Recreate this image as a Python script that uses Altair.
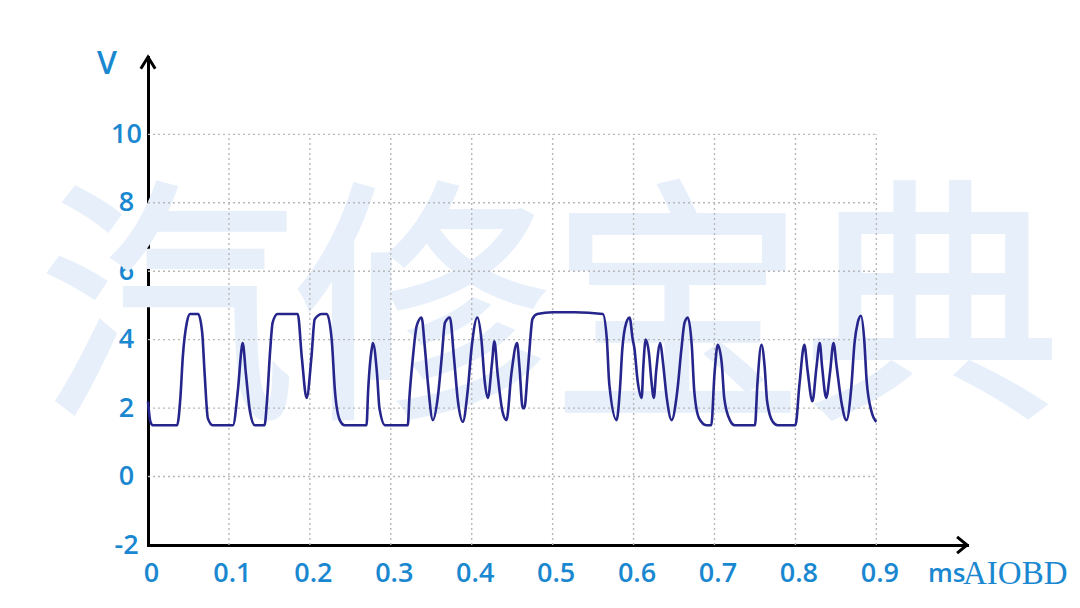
import altair as alt
import pandas as pd

# ---- waveform samples (time in ms, voltage in V) ----
T_MS = [
    0.000, 0.003, 0.006, 0.036,
    0.040, 0.043, 0.048, 0.052, 0.062, 0.067, 0.070, 0.074, 0.080,
    0.105, 0.111, 0.116, 0.117, 0.121, 0.126, 0.132,
    0.144, 0.147, 0.151, 0.154, 0.160, 0.185, 0.190, 0.196, 0.202, 0.206, 0.215, 0.221, 0.227, 0.231, 0.237, 0.243,
    0.270, 0.272, 0.277, 0.278, 0.283, 0.286, 0.293,
    0.321, 0.323, 0.327, 0.332, 0.338, 0.342, 0.346, 0.352,
    0.358, 0.363, 0.367, 0.373, 0.378, 0.383, 0.389,
    0.395, 0.400, 0.407, 0.412, 0.416, 0.420,
    0.425, 0.428, 0.432, 0.438, 0.443,
    0.449, 0.456, 0.459, 0.463, 0.465,
    0.469, 0.472, 0.475, 0.481, 0.500, 0.527, 0.562, 0.567, 0.570, 0.579,
    0.583, 0.586, 0.591, 0.595, 0.599, 0.601, 0.605, 0.610,
    0.612, 0.615, 0.619, 0.622, 0.625,
    0.628, 0.633, 0.636, 0.641, 0.647,
    0.654, 0.659, 0.663, 0.667, 0.672, 0.675, 0.681, 0.690,
    0.696, 0.700, 0.704, 0.709, 0.712, 0.719, 0.725,
    0.750, 0.753, 0.758, 0.762, 0.765, 0.772, 0.778,
    0.800, 0.805, 0.811, 0.815, 0.821,
    0.826, 0.830, 0.833, 0.838,
    0.843, 0.847, 0.851, 0.857, 0.863,
    0.869, 0.873, 0.877, 0.881, 0.885, 0.888, 0.894, 0.900,
]
V_VOLTS = [
    2.2, 1.6, 1.5, 1.5,
    2.3, 3.5, 4.5, 4.75, 4.75, 4.2, 3.0, 1.7, 1.5,
    1.5, 2.5, 3.8, 3.9, 3.0, 1.9, 1.5,
    1.5, 2.2, 3.7, 4.5, 4.75, 4.75, 3.5, 2.3, 3.5, 4.6, 4.75, 4.75, 4.0, 2.5, 1.65, 1.5,
    1.5, 2.5, 3.8, 3.9, 3.0, 2.0, 1.5,
    1.5, 2.3, 3.4, 4.4, 4.65, 3.8, 2.7, 1.65,
    2.3, 3.5, 4.5, 4.65, 3.5, 2.2, 1.6,
    2.5, 3.8, 4.65, 4.0, 2.8, 2.3,
    3.3, 3.95, 3.0, 1.9, 1.65,
    3.0, 3.9, 3.2, 2.0, 2.0,
    3.0, 3.9, 4.6, 4.75, 4.8, 4.8, 4.75, 4.0, 2.7, 1.65,
    2.5, 3.7, 4.5, 4.65, 4.0, 3.75, 2.8, 2.3,
    3.2, 4.0, 3.6, 2.8, 2.3,
    3.1, 3.9, 3.4, 2.3, 1.65,
    2.5, 3.7, 4.5, 4.65, 3.8, 2.5, 1.7, 1.5,
    1.5, 3.0, 3.85, 3.3, 2.3, 1.65, 1.5,
    1.5, 2.7, 3.85, 3.2, 2.2, 1.6, 1.5,
    1.5, 2.7, 3.85, 3.1, 2.2,
    3.2, 3.9, 3.2, 2.3,
    3.1, 3.9, 3.2, 2.15, 1.65,
    2.6, 3.9, 4.5, 4.7, 4.0, 2.8, 1.9, 1.6,
]

X_TICKS = [0, 0.1, 0.2, 0.3, 0.4, 0.5, 0.6, 0.7, 0.8, 0.9]
Y_TICKS = [-2, 0, 2, 4, 6, 8, 10]
GRID_X = [0.1, 0.2, 0.3, 0.4, 0.5, 0.6, 0.7, 0.8, 0.9]
GRID_Y = [0, 2, 4, 6, 8, 10]
X_MIN, X_MAX = 0.0, 1.012
Y_MIN, Y_MAX = -2.0, 12.26
GRID_X_END = 0.9
GRID_Y_END = 10

BLUE = "#1a88d0"
FONT = "Open Sans"
W, H = 819, 488
LABEL_EXPR = "replace(datum.label, '\u2212', '-')"

xs = alt.Scale(domain=[X_MIN, X_MAX], nice=False, zero=False)
ys = alt.Scale(domain=[Y_MIN, Y_MAX], nice=False, zero=False)

x_axis = alt.Axis(
    values=X_TICKS, format="~g", labelExpr=LABEL_EXPR, title=None, grid=False, ticks=False, tickSize=0,
    domainColor="black", domainWidth=3, domainCap="square",
    labelColor=BLUE, labelFont=FONT, labelFontSize=27, labelFontWeight=600,
    labelPadding=15, labelOffset=3, labelFlush=False, labelOverlap=False)
y_axis = alt.Axis(
    values=Y_TICKS, format="~g", labelExpr=LABEL_EXPR, title=None, grid=False, ticks=False, tickSize=0,
    domainColor="black", domainWidth=3, domainCap="square",
    labelColor=BLUE, labelFont=FONT, labelFontSize=27, labelFontWeight=600,
    labelAlign="center", labelBaseline="middle", labelPadding=22,
    labelFlush=False, labelOverlap=False)

wave = pd.DataFrame({"t": T_MS, "v": V_VOLTS})
vgrid = pd.DataFrame({"t": GRID_X, "v": [Y_MIN] * len(GRID_X), "v1": [GRID_Y_END] * len(GRID_X)})
hgrid = pd.DataFrame({"v": GRID_Y, "t": [X_MIN] * len(GRID_Y), "t1": [GRID_X_END] * len(GRID_Y)})
one = pd.DataFrame({"k": [0]})

watermark = alt.Chart(one).mark_text(
    text="汽修宝典", font="Noto Sans CJK SC", fontWeight="normal", fontSize=255,
    color="#e6effa", stroke="#e6effa", strokeWidth=4, align="center", baseline="middle"
).encode(x=alt.value(402), y=alt.value(263))

grid_style = dict(color="#b8b8b8", strokeWidth=1.4, strokeDash=[2, 3])
vrules = alt.Chart(vgrid).mark_rule(**grid_style).encode(
    x=alt.X("t:Q", scale=xs, axis=x_axis),
    y=alt.Y("v:Q", scale=ys, axis=y_axis),
    y2="v1:Q",
)
hrules = alt.Chart(hgrid).mark_rule(**grid_style).encode(
    y=alt.Y("v:Q", scale=ys, axis=y_axis),
    x=alt.X("t:Q", scale=xs, axis=x_axis),
    x2="t1:Q",
)

line = alt.Chart(wave).mark_line(color="#25258c", strokeWidth=2.6, interpolate="monotone").encode(
    x=alt.X("t:Q", scale=xs, axis=x_axis),
    y=alt.Y("v:Q", scale=ys, axis=y_axis),
)

arrow_x = alt.Chart(one).mark_point(
    shape="M-1.1,-0.9L0,0L-1.1,0.9", size=324, filled=False, color="black", strokeWidth=3, opacity=1
).encode(x=alt.value(W), y=alt.value(H))
arrow_y = alt.Chart(one).mark_point(
    shape="M-0.8,1.3L0,0L0.8,1.3", size=324, filled=False, color="black", strokeWidth=3, opacity=1
).encode(x=alt.value(0), y=alt.value(0))

v_label = alt.Chart(one).mark_text(
    text="V", font=FONT, fontSize=32, fontWeight=600, color=BLUE, align="center", baseline="middle"
).encode(x=alt.value(-41), y=alt.value(7))
ms_label = alt.Chart(one).mark_text(
    text="ms", font=FONT, fontSize=26, fontWeight=600, color=BLUE, align="left", baseline="alphabetic"
).encode(x=alt.value(780), y=alt.value(525))
brand = alt.Chart(one).mark_text(
    text="AIOBD", font="Liberation Serif", fontSize=33, color=BLUE, align="left", baseline="alphabetic"
).encode(x=alt.value(815), y=alt.value(527))

chart = alt.layer(
    watermark, vrules, hrules, line, arrow_x, arrow_y, v_label, ms_label, brand
).properties(
    width=W, height=H,
    padding={"left": 140, "top": 49, "right": 105, "bottom": 47},
    autosize=alt.AutoSizeParams(type="none"),
    background="white",
).configure_view(stroke=None)

chart.save("out.html", embed_options={"renderer": "svg", "actions": False})
